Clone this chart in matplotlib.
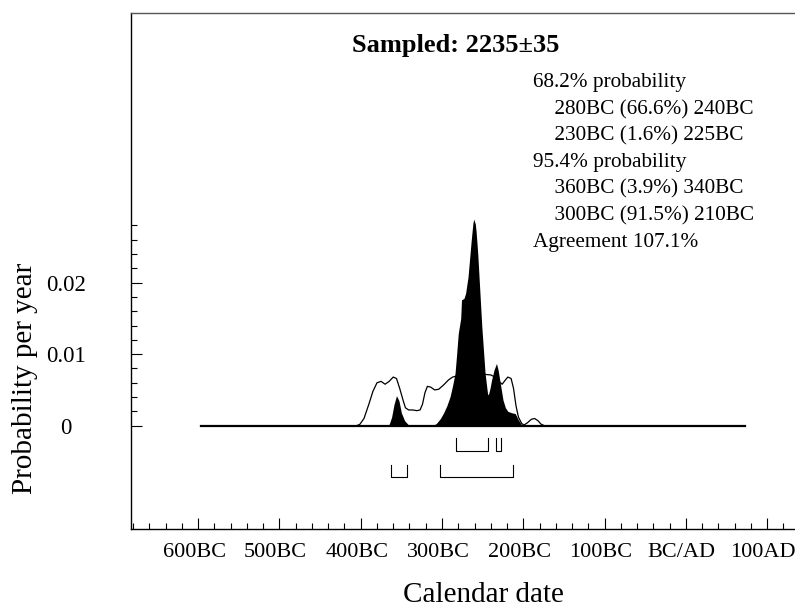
import matplotlib
matplotlib.use("Agg")
import matplotlib.pyplot as plt
from matplotlib.transforms import ScaledTranslation

plt.rcParams['font.family'] = ['Liberation Serif', 'DejaVu Serif']

# likelihood (outline) - year (negative = BC), probability per year
like_years = [-597, -405, -401, -396, -390, -385, -380, -375, -370, -365, -360, -356,
              -352, -348, -345, -341, -336, -331, -327, -324, -321, -318, -314, -309,
              -304, -298, -292, -287, -280, -270, -260, -250, -240, -235, -230, -226,
              -222, -219, -215, -212, -209, -206, -202, -199, -195, -190, -186, -182,
              -178, -174, 73]
like_prob = [0, 0, 0.0002, 0.0010, 0.0030, 0.0048, 0.0060, 0.0062, 0.0058, 0.0062, 0.0068, 0.0066,
             0.0052, 0.0036, 0.0025, 0.0022, 0.0022, 0.0021, 0.0022, 0.0030, 0.0046, 0.0055, 0.0054, 0.0050,
             0.0051, 0.0057, 0.0064, 0.0068, 0.0070, 0.0071, 0.0072, 0.0072, 0.0071, 0.0068, 0.0062, 0.0058,
             0.0064, 0.0068, 0.0066, 0.0052, 0.0028, 0.0012, 0.0003, 0.0001, 0.0004, 0.0009, 0.0010, 0.0007,
             0.0002, 0, 0]

# posterior (filled)
post_years = [-597, -367, -365, -362, -359, -356, -353, -350, -346, -342, -339,
              -312, -307, -302, -298, -294, -290, -287, -284, -282, -280, -277, -276,
              -273, -271, -268, -264, -262, -261, -259, -258, -256, -254, -251, -247,
              -244, -243, -241, -239, -236, -233, -231, -229, -225, -222, -219, -214,
              -210, -206, -202, -200, 73]
post_prob = [0, 0, 0.0002, 0.0012, 0.0030, 0.0042, 0.0035, 0.0018, 0.0007, 0.0002, 0,
             0, 0.0003, 0.0010, 0.0018, 0.0028, 0.0041, 0.0056, 0.0073, 0.0100, 0.0129, 0.0150, 0.0176,
             0.0178, 0.0185, 0.0208, 0.0260, 0.0283, 0.0289, 0.0282, 0.0271, 0.0240, 0.0199, 0.0138, 0.0073,
             0.0045, 0.0043, 0.0052, 0.0064, 0.0078, 0.0087, 0.0078, 0.0064, 0.0036, 0.0025, 0.0020, 0.0018,
             0.0017, 0.0008, 0.0001, 0, 0]

# highest posterior density ranges
hpd68 = [(-280, -240), (-230, -225)]
hpd95 = [(-360, -340), (-300, -210)]

title = "Sampled: 2235\u00b135"
info_lines = ["68.2% probability",
              "    280BC (66.6%) 240BC",
              "    230BC (1.6%) 225BC",
              "95.4% probability",
              "    360BC (3.9%) 340BC",
              "    300BC (91.5%) 210BC",
              "Agreement 107.1%"]

major_x = [-600, -500, -400, -300, -200, -100, 0, 100]
major_x_labels = ["600BC", "500BC", "400BC", "300BC", "200BC", "100BC", "BC/AD", "100AD"]
major_y = [0, 0.01, 0.02]
major_y_labels = ["0", "0.01", "0.02"]

fig = plt.figure(figsize=(7.95, 6.1), dpi=100)
ax = fig.add_axes([131 / 795, 81 / 610, 689 / 795, 516 / 610])
ax.set_xlim(-682.6, 165)
ax.set_ylim(-0.01445, 0.05772)

# curves
ax.fill_between(like_years, like_prob, color='white', zorder=1)
ax.plot(like_years, like_prob, color='black', lw=0.9, zorder=2)
ax.fill_between(post_years, post_prob, color='black', lw=0, zorder=3)
ax.plot([like_years[0], like_years[-1]], [0, 0], color='black', lw=1.6, zorder=4)

# range brackets (drawn a little left, as OxCal does)
off = -3
for s, e in hpd68:
    ax.plot([s + off, s + off, e + off, e + off], [-0.00176, -0.0035, -0.0035, -0.00176], color='black', lw=0.8)
for s, e in hpd95:
    ax.plot([s + off, s + off, e + off, e + off], [-0.0055, -0.00713, -0.00713, -0.0055], color='black', lw=0.8)

# text
ax.text(-283.4, 0.0523, title, ha='center', va='baseline', fontsize=19, fontweight='bold')
x0 = -600 + (531.7 - 196.7) / 0.8127
for i, line in enumerate(info_lines):
    y = (425.7 - (87.5 + 26.6 * i)) / 7150
    ax.text(x0, y, line, ha='left', va='baseline', fontsize=15.3)

# axes styling
ax.spines['right'].set_visible(False)
ax.spines['top'].set_color('#555555')
for sp in ax.spines.values():
    sp.set_linewidth(1)

ax.set_xticks(major_x)
ax.set_xticklabels(major_x_labels, fontsize=16)
ax.set_xticks(list(range(-680, 161, 20)), minor=True)
ax.set_yticks(major_y)
ax.set_yticklabels(major_y_labels, fontsize=16.5, ha='center')
ax.set_yticks([i * 0.002 for i in range(15)], minor=True)
ax.tick_params(axis='x', which='major', direction='in', length=8, width=0.8, pad=10, top=False)
ax.tick_params(axis='x', which='minor', direction='in', length=4, width=0.8, top=False)
ax.tick_params(axis='y', which='major', direction='in', length=8, width=0.8, pad=47, right=False)
ax.tick_params(axis='y', which='minor', direction='in', length=4, width=0.8, right=False)

# nudge x tick labels a few pixels left so 100AD fits in the picture
shift = ScaledTranslation(-4 / 100, 0, fig.dpi_scale_trans)
for tick in ax.xaxis.get_major_ticks():
    tick.label1.set_transform(tick.label1.get_transform() + shift)

ax.set_xlabel("Calendar date", fontsize=21)
ax.xaxis.set_label_coords((483 - 131) / 689, -0.102)
ax.set_ylabel("Probability per year", fontsize=21)
ax.yaxis.set_label_coords(-0.135, 0.2926)

fig.savefig("out.png", dpi=100)
